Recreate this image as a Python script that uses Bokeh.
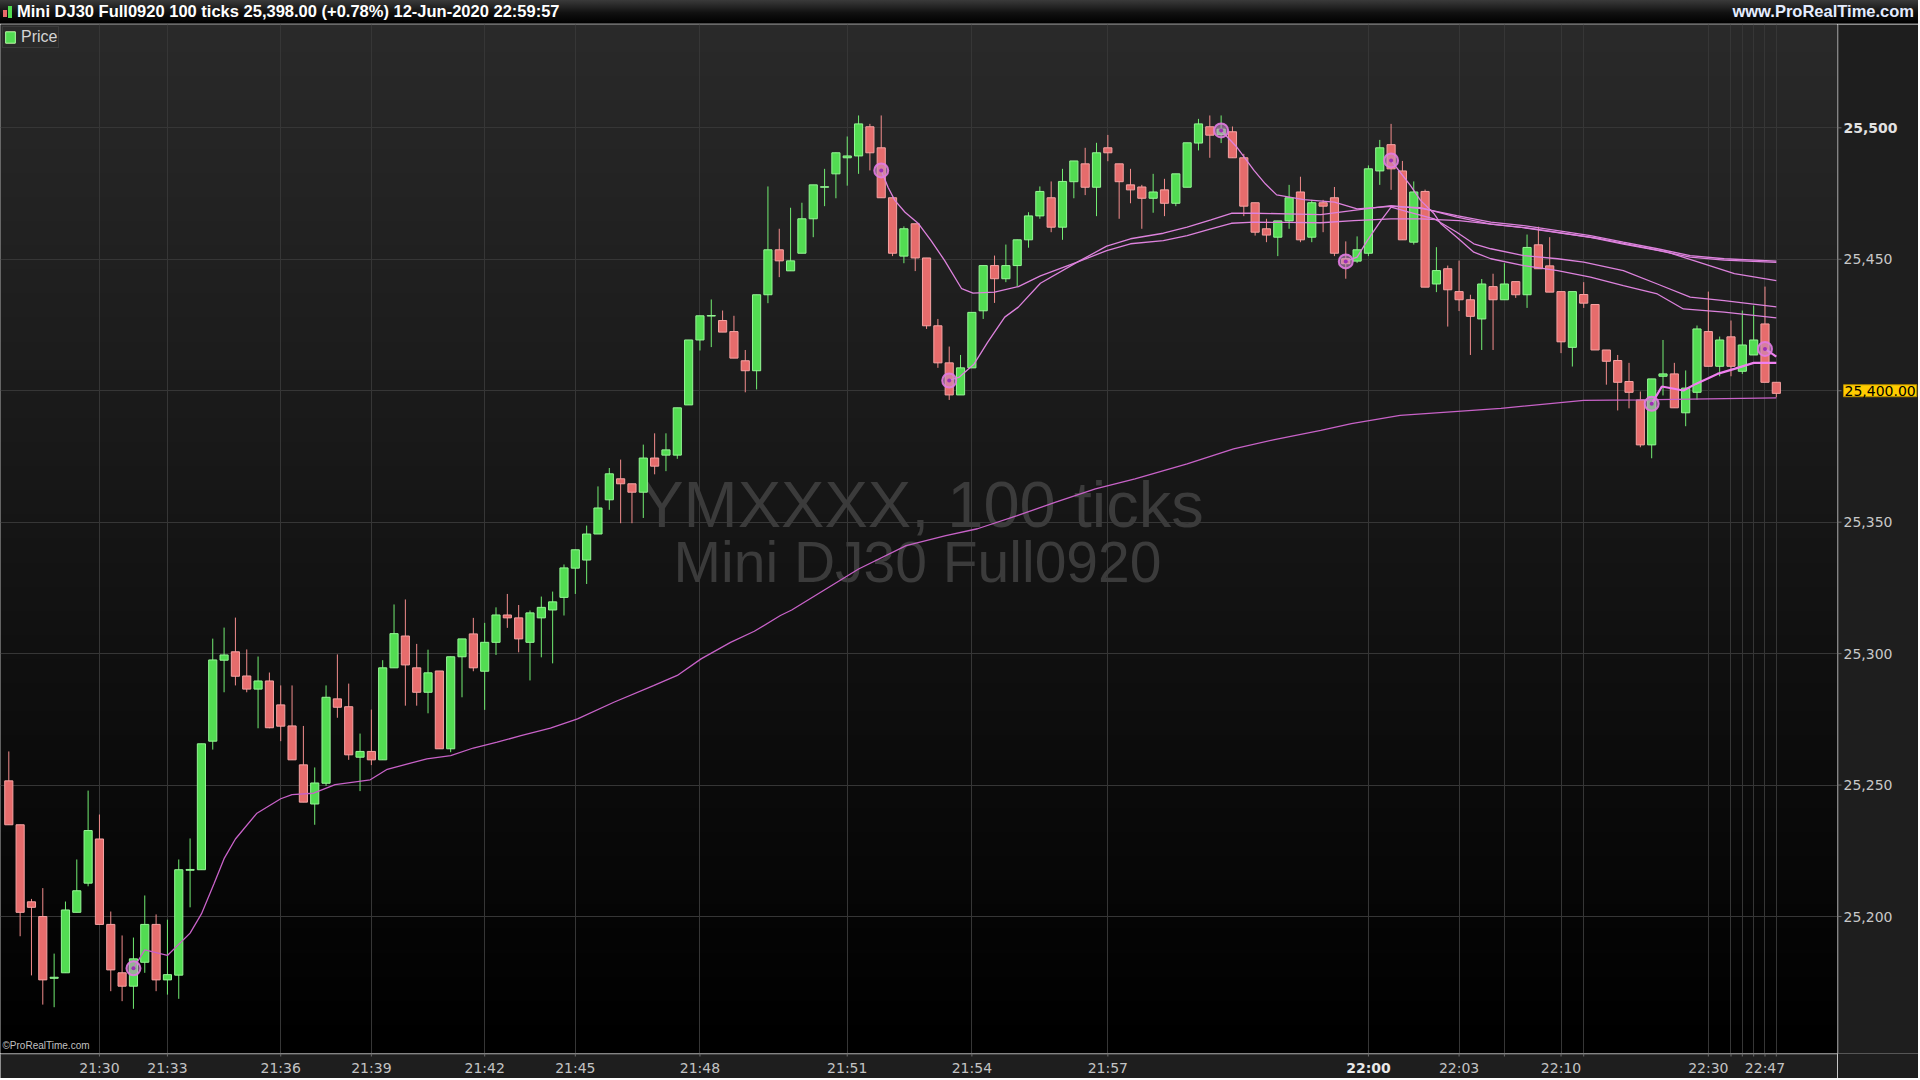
import numpy as np
from bokeh.plotting import figure
from bokeh.models import (ColumnDataSource, FixedTicker, Label, Range1d, Div, Span,
                          Legend, LegendItem)
from bokeh.layouts import column, row
from bokeh.embed import file_html
from bokeh.resources import INLINE
from bokeh.core.properties import value

# ---------------- data (100-tick bars, index = bar number) ----------------
open_ = [25251.6, 25234.9, 25205.6, 25200.0, 25176.5, 25178.6, 25201.6, 25212.7, 25229.5, 25197.0,
         25178.6, 25173.5, 25182.6, 25197.0, 25175.9, 25177.7, 25217.6, 25217.8, 25266.7, 25297.5,
         25300.7, 25291.5, 25286.5, 25289.6, 25280.5, 25272.5, 25257.7, 25242.8, 25250.7, 25282.8,
         25279.8, 25260.6, 25262.8, 25259.6, 25294.6, 25306.7, 25294.6, 25285.3, 25293.4, 25263.8,
         25298.8, 25307.5, 25293.3, 25304.3, 25314.7, 25313.6, 25304.3, 25313.6, 25316.6, 25321.4,
         25332.5, 25335.6, 25345.5, 25358.5, 25366.5, 25364.6, 25361.4, 25374.4, 25375.5, 25375.5,
         25394.6, 25419.3, 25428.4, 25426.7, 25422.5, 25411.4, 25407.6, 25436.5, 25453.6, 25445.6,
         25452.3, 25465.4, 25477.4, 25482.5, 25488.6, 25489.3, 25500.4, 25492.4, 25473.4, 25451.2,
         25463.5, 25450.5, 25424.7, 25410.6, 25398.4, 25408.7, 25430.4, 25447.6, 25442.6, 25447.6,
         25457.4, 25466.5, 25473.4, 25462.2, 25479.5, 25486.3, 25477.4, 25492.4, 25486.3, 25478.3,
         25477.5, 25473.2, 25476.4, 25471.3, 25477.4, 25494.2, 25500.4, 25497.5, 25498.5, 25488.6,
         25471.5, 25461.6, 25458.4, 25464.6, 25475.6, 25458.4, 25471.5, 25473.4, 25450.2, 25449.3,
         25452.3, 25483.6, 25493.6, 25483.6, 25456.5, 25475.8, 25440.6, 25446.4, 25437.7, 25434.6,
         25427.3, 25439.6, 25434.6, 25441.5, 25436.5, 25455.5, 25447.5, 25437.7, 25416.5, 25436.6,
         25432.8, 25415.5, 25411.5, 25403.5, 25396.5, 25379.4, 25405.5, 25406.4, 25391.6, 25399.4,
         25422.5, 25409.3, 25420.5, 25407.4, 25413.6, 25425.4, 25403.2]
high = [25262.8, 25234.9, 25206.7, 25210.8, 25185.9, 25205.7, 25221.7, 25247.9, 25238.8, 25201.9,
        25192.8, 25192.0, 25208.0, 25200.8, 25198.8, 25221.7, 25229.7, 25265.7, 25305.7, 25309.9,
        25313.7, 25301.6, 25298.9, 25292.8, 25287.9, 25287.9, 25272.5, 25256.7, 25287.9, 25299.7,
        25288.6, 25269.6, 25278.7, 25297.5, 25318.7, 25320.6, 25303.7, 25301.5, 25293.4, 25298.9,
        25305.6, 25313.6, 25311.7, 25317.6, 25322.7, 25318.5, 25316.4, 25321.7, 25323.6, 25333.9,
        25339.6, 25348.7, 25363.6, 25370.6, 25373.8, 25364.6, 25379.5, 25383.8, 25383.8, 25393.5,
        25419.3, 25428.5, 25434.7, 25430.5, 25428.5, 25415.5, 25436.5, 25477.7, 25461.6, 25469.6,
        25471.5, 25478.3, 25484.4, 25490.6, 25496.7, 25504.7, 25501.5, 25504.7, 25473.4, 25462.5,
        25463.5, 25450.5, 25427.3, 25416.8, 25413.6, 25429.8, 25447.6, 25451.4, 25455.6, 25457.5,
        25467.9, 25477.7, 25479.6, 25484.4, 25487.4, 25492.4, 25494.3, 25497.3, 25486.3, 25484.4,
        25478.3, 25482.5, 25480.6, 25482.5, 25494.3, 25503.4, 25504.7, 25504.7, 25500.5, 25490.1,
        25471.5, 25465.4, 25464.6, 25478.3, 25481.4, 25472.6, 25472.6, 25477.5, 25456.8, 25458.7,
        25485.7, 25495.4, 25501.5, 25487.4, 25479.6, 25476.5, 25454.6, 25447.6, 25449.5, 25436.5,
        25442.5, 25444.5, 25448.5, 25441.5, 25459.4, 25462.4, 25458.4, 25437.7, 25437.7, 25441.3,
        25432.8, 25415.5, 25413.6, 25410.6, 25399.7, 25404.5, 25419.3, 25410.6, 25407.7, 25424.8,
        25437.7, 25420.6, 25426.7, 25430.5, 25432.4, 25439.6, 25403.2]
low = [25234.9, 25192.5, 25177.6, 25166.5, 25165.5, 25178.6, 25201.6, 25211.5, 25197.0, 25171.6,
       25167.8, 25164.9, 25178.6, 25171.6, 25170.3, 25168.7, 25203.5, 25217.8, 25263.5, 25285.3,
       25287.9, 25285.3, 25271.6, 25271.6, 25266.7, 25259.6, 25243.5, 25234.9, 25249.7, 25275.6,
       25259.6, 25247.7, 25257.6, 25259.6, 25294.6, 25280.2, 25280.2, 25277.3, 25263.8, 25262.5,
       25283.4, 25293.3, 25278.6, 25299.5, 25309.8, 25300.5, 25289.8, 25298.6, 25296.3, 25314.5,
       25322.7, 25326.5, 25345.5, 25354.7, 25349.6, 25349.6, 25351.6, 25368.2, 25369.4, 25374.1,
       25394.6, 25415.3, 25416.6, 25422.3, 25412.4, 25399.4, 25400.5, 25433.3, 25443.2, 25445.6,
       25452.3, 25458.4, 25470.2, 25473.2, 25478.0, 25482.5, 25483.8, 25473.4, 25451.2, 25448.5,
       25445.5, 25423.5, 25408.7, 25396.5, 25398.4, 25408.7, 25427.3, 25433.4, 25441.3, 25439.6,
       25454.4, 25465.4, 25460.3, 25457.4, 25473.2, 25474.4, 25466.4, 25487.3, 25465.4, 25471.3,
       25461.6, 25467.7, 25466.4, 25470.2, 25477.4, 25491.4, 25488.6, 25494.2, 25488.6, 25466.4,
       25459.0, 25456.5, 25451.2, 25461.6, 25456.5, 25456.5, 25460.3, 25451.2, 25442.6, 25448.6,
       25451.2, 25478.3, 25476.4, 25457.4, 25455.6, 25439.4, 25437.5, 25424.4, 25430.3, 25413.6,
       25415.5, 25415.5, 25434.6, 25435.3, 25431.5, 25446.4, 25437.5, 25414.3, 25409.2, 25431.5,
       25415.5, 25402.3, 25392.5, 25393.3, 25378.5, 25374.3, 25398.2, 25393.5, 25386.5, 25396.6,
       25409.3, 25405.5, 25405.5, 25406.4, 25413.6, 25403.2, 25397.5]
close = [25234.9, 25201.6, 25203.5, 25175.9, 25176.9, 25202.5, 25209.8, 25232.7, 25197.0, 25179.7,
         25173.5, 25183.9, 25197.0, 25175.9, 25177.9, 25217.8, 25217.9, 25265.7, 25297.6, 25299.5,
         25291.4, 25286.5, 25289.6, 25271.8, 25272.4, 25259.6, 25243.5, 25250.8, 25283.4, 25279.6,
         25261.5, 25262.8, 25259.6, 25294.6, 25307.6, 25295.7, 25285.3, 25292.7, 25263.8, 25298.8,
         25305.6, 25294.6, 25304.3, 25314.7, 25313.6, 25305.6, 25315.5, 25317.6, 25319.7, 25332.6,
         25339.5, 25345.5, 25355.4, 25368.4, 25364.6, 25361.4, 25374.4, 25371.3, 25377.5, 25393.5,
         25419.3, 25428.5, 25428.6, 25422.3, 25412.4, 25407.6, 25436.5, 25453.6, 25449.4, 25449.4,
         25465.4, 25478.3, 25477.6, 25490.5, 25489.3, 25501.5, 25490.5, 25473.4, 25452.3, 25461.6,
         25450.5, 25424.7, 25410.6, 25398.4, 25408.7, 25429.8, 25447.6, 25442.6, 25447.6, 25457.4,
         25466.5, 25475.8, 25462.2, 25479.6, 25487.4, 25477.4, 25490.5, 25490.5, 25479.5, 25476.4,
         25473.2, 25475.6, 25471.3, 25482.5, 25494.3, 25501.5, 25497.2, 25499.5, 25488.6, 25470.2,
         25460.3, 25459.2, 25464.6, 25473.4, 25457.4, 25471.5, 25470.2, 25452.3, 25448.3, 25453.6,
         25484.4, 25492.4, 25484.4, 25457.4, 25475.6, 25439.4, 25445.7, 25438.4, 25434.6, 25428.3,
         25440.6, 25434.6, 25440.6, 25436.5, 25454.5, 25446.4, 25437.5, 25418.6, 25437.7, 25433.3,
         25415.5, 25411.2, 25403.2, 25399.4, 25379.4, 25404.5, 25406.4, 25393.5, 25401.0, 25423.5,
         25409.3, 25419.3, 25409.3, 25417.4, 25419.3, 25403.2, 25399.0]

# time axis (labels at bar indices)
time_tick_idx = [8, 14, 24, 32, 42, 50, 61, 74, 85, 97, 120, 128, 132, 137, 139, 150, 152, 153, 154, 155, 156]
time_tick_txt = ["21:30", "21:33", "21:36", "21:39", "21:42", "21:45", "21:48", "21:51", "21:54", "21:57",
                 "22:00", "22:03", "", "22:10", "", "22:30", "", "", "", "22:47", ""]
session_label = "22:00"
price_ticks = [25200, 25250, 25300, 25350, 25400, 25450, 25500]
bold_price = 25500

# anchored average lines: (bar index, price)
avg_0 = [(11, 25180.3), (12, 25187.3), (14, 25185.2), (16, 25193.7), (17, 25201.0), (18.1, 25212.4),
         (19, 25222.0), (20, 25229.5), (21.9, 25239.3), (24, 25244.8), (25, 25246.4), (26.9, 25246.9),
         (28.8, 25250.2), (31.9, 25252.0), (33.4, 25256.0), (36.9, 25260.0), (39.0, 25261.2),
         (41.0, 25264.1), (43.1, 25266.3), (45.2, 25268.8), (47.8, 25271.7), (50.2, 25275.2),
         (53.4, 25281.5), (56.9, 25287.8), (59.0, 25291.7), (61.1, 25298.0), (63.7, 25304.3),
         (65.8, 25308.5), (68.1, 25314.5), (69.1, 25316.6), (75.0, 25332.2), (79.2, 25341.1),
         (82.7, 25344.9), (85.5, 25347.5), (89.0, 25352.5), (92.4, 25357.6), (95.9, 25362.7),
         (99.4, 25366.5), (104.0, 25372.2), (108.1, 25377.9), (111.6, 25381.3), (115.8, 25384.9),
         (118.5, 25387.5), (122.8, 25390.6), (131.7, 25393.3), (139.0, 25396.3), (144.0, 25396.5),
         (156, 25397.3)]
avg_1 = [(77, 25483.8), (77.6, 25477.4), (78.2, 25472.4), (79.1, 25467.9), (80.3, 25463.5), (81.4, 25457.1),
         (82.6, 25449.5), (84.1, 25438.8), (85.1, 25437.1), (87.0, 25437.5), (89.1, 25439.6),
         (91.05, 25443.7), (94.3, 25448.9), (96.9, 25453.3), (99.0, 25455.9), (101.9, 25457.1),
         (104.0, 25459.0), (106.1, 25461.6), (107.9, 25463.7), (109.9, 25464.1), (112.8, 25464.0),
         (115.8, 25463.9), (118.7, 25464.7), (122.0, 25465.4), (124.6, 25465.4), (128.0, 25464.7),
         (134.6, 25461.6), (140.5, 25457.8), (146.4, 25452.7), (152.3, 25444.5), (156, 25441.9)]
avg_2 = [(83, 25403.9), (83.9, 25405.2), (85.2, 25410.2), (86.4, 25418.5), (87.9, 25428.0), (89.1, 25431.8),
         (91.05, 25440.9), (94.3, 25448.9), (96.9, 25455.0), (99.0, 25457.8), (101.9, 25459.9),
         (104.0, 25462.2), (106.1, 25465.0), (107.9, 25467.5), (109.9, 25467.5), (112.8, 25467.3),
         (115.8, 25467.0), (118.7, 25468.6), (122.0, 25470.4), (124.9, 25469.2), (127.8, 25466.6),
         (130.8, 25464.1), (133.7, 25462.8), (136.7, 25460.9), (139.6, 25459.0), (142.5, 25456.5),
         (145.5, 25454.0), (148.4, 25451.4), (151.4, 25450.2), (156, 25449.3)]
avg_3 = [(107, 25499.0), (108.4, 25492.6), (109.9, 25483.8), (110.9, 25478.7), (111.9, 25474.5),
         (114.3, 25472.7), (117.0, 25471.7), (119.0, 25469.2), (122.0, 25470.1), (124.6, 25469.6),
         (127.8, 25466.0), (130.8, 25463.4), (133.7, 25462.0), (136.7, 25460.1), (139.6, 25458.3),
         (142.5, 25455.8), (145.5, 25453.4), (148.4, 25450.8), (151.4, 25449.7), (156, 25448.8)]
avg_4 = [(118, 25449.2), (119.0, 25450.8), (119.9, 25457.1), (121.1, 25464.7), (122.0, 25469.8),
         (123.5, 25468.0), (125.8, 25465.4), (127.8, 25460.3), (129.3, 25455.9), (130.8, 25454.0),
         (133.7, 25451.4), (136.7, 25450.2), (139.0, 25448.9), (142.5, 25445.7), (145.5, 25440.6),
         (148.4, 25435.6), (151.4, 25434.3), (156, 25431.9)]
avg_5 = [(122, 25487.6), (122.8, 25483.1), (123.7, 25478.1), (124.6, 25472.4), (125.8, 25467.3),
         (126.4, 25463.5), (127.8, 25458.4), (129.3, 25452.7), (130.8, 25450.2), (133.7, 25447.6),
         (136.7, 25445.7), (139.6, 25443.2), (142.5, 25440.0), (145.5, 25436.8), (147.8, 25431.1),
         (151.4, 25429.9), (156, 25427.7)]
avg_6 = [(145, 25395.0), (145.9, 25401.6), (147.8, 25400.1), (148.9, 25402.6), (150.8, 25406.4),
         (152.3, 25408.3), (154.0, 25410.6), (156, 25410.6)]
avg_7 = [(155, 25415.9), (156, 25413.0)]

anchor_idx = [11, 77, 83, 107, 118, 122, 145, 155]
anchor_val = [25180.3, 25483.8, 25403.9, 25499.0, 25449.2, 25487.6, 25395.0, 25415.9]

last_price_label = "25,400.00"
last_price_level = 25400

# ---------------- geometry ----------------
FRAME_W, FRAME_H = 1837, 1029
RIGHT_W, BOTTOM_H, TITLE_H = 81, 25, 24
X0, X1 = -0.733, 161.40
Y0, Y1 = 25147.9, 25539.3
PANEL = "#1e1e1e"
AXIS = "#6a6a6a"

# ---------------- main chart ----------------
p = figure(width=FRAME_W, height=FRAME_H, output_backend="svg", toolbar_location=None,
           x_range=Range1d(X0, X1), y_range=Range1d(Y0, Y1),
           x_axis_location=None, y_axis_location=None,
           min_border_left=0, min_border_top=0, min_border_right=0, min_border_bottom=0,
           background_fill_color="#000000", border_fill_color=PANEL, outline_line_color=None)

# vertical gradient background of the chart area
N = 256
shade = np.linspace(0, 42, N).astype(np.uint8)
img = np.empty((N, 1), dtype=np.uint32)
view = img.view(dtype=np.uint8).reshape((N, 1, 4))
view[:, 0, 0] = shade
view[:, 0, 1] = shade
view[:, 0, 2] = shade
view[:, 0, 3] = 255
p.image_rgba(image=[img], x=X0, y=Y0, dw=X1 - X0, dh=Y1 - Y0, level="image")

p.xgrid.ticker = FixedTicker(ticks=time_tick_idx)
p.ygrid.ticker = FixedTicker(ticks=price_ticks)
for g in (p.xgrid, p.ygrid):
    g.grid_line_color = "#363636"
    g.grid_line_width = 1

# watermark
p.add_layout(Label(x=80.6, y=25356.8, text="YMXXXX, 100 ticks", text_align="center",
                   text_baseline="alphabetic", text_font="Liberation Sans", text_font_size="65px",
                   text_color="#3b3b3b", level="underlay"))
p.add_layout(Label(x=80.2, y=25334.8, text="Mini DJ30 Full0920", text_align="center",
                   text_baseline="alphabetic", text_font="Liberation Sans", text_font_size="57px",
                   text_color="#3b3b3b", level="underlay"))

# candles
idx = list(range(len(open_)))
up = [i for i in idx if close[i] >= open_[i]]
dn = [i for i in idx if close[i] < open_[i]]


def make_src(ids):
    return ColumnDataSource(dict(
        x=ids,
        high=[high[i] for i in ids], low=[low[i] for i in ids],
        top=[max(open_[i], close[i]) for i in ids],
        bottom=[min(open_[i], close[i]) for i in ids]))


src_up, src_dn = make_src(up), make_src(dn)
p.segment(x0="x", y0="low", x1="x", y1="high", source=src_up, line_color="#72ec72", line_width=1)
p.segment(x0="x", y0="low", x1="x", y1="high", source=src_dn, line_color="#f28c8c", line_width=1)
r_up = p.vbar(x="x", width=0.72, top="top", bottom="bottom", source=src_up,
              fill_color="#52dc52", line_color="#95f795", line_width=1)
r_dn = p.vbar(x="x", width=0.72, top="top", bottom="bottom", source=src_dn,
              fill_color="#e66c6c", line_color="#f7a3a3", line_width=1)

# anchored average lines
line_specs = [(avg_0, "#c862c8", 1.3), (avg_1, "#dd82dd", 1.3), (avg_2, "#dd82dd", 1.3),
              (avg_3, "#dd82dd", 1.3), (avg_4, "#dd82dd", 1.3), (avg_5, "#dd82dd", 1.3),
              (avg_6, "#f080f0", 2.2), (avg_7, "#f080f0", 2.2)]
for pts, col, w in line_specs:
    p.line(x=[a for a, b in pts], y=[b for a, b in pts], line_color=col, line_width=w)

# anchor markers
p.scatter(x=anchor_idx, y=anchor_val, size=14, marker="circle", fill_color="#c890c8", fill_alpha=0.55,
          line_color="#e27ae2", line_width=2, line_alpha=0.9)
p.scatter(x=anchor_idx, y=anchor_val, size=4, marker="circle", fill_color="#9b2fb5", line_color=None)

# legend box "Price"
legend = Legend(items=[LegendItem(label="Price", renderers=[r_dn, r_up])], location="top_left",
                background_fill_color="#2a2a2a", background_fill_alpha=1.0, border_line_color="#4a4a4a",
                label_text_color="#d4d4d4", label_text_font="Liberation Sans", label_text_font_size="16px",
                glyph_width=12, glyph_height=14, label_height=16, padding=1, margin=2, spacing=0,
                label_standoff=5)
p.add_layout(legend)

# copyright
p.add_layout(Label(x=X0, x_offset=2, y=Y0 + 0.8, text="\u00a9ProRealTime.com", text_baseline="bottom",
                   text_font="Liberation Sans", text_font_size="10px", text_color="#c0c0c0"))

# ---------------- bottom time axis strip ----------------
pb = figure(width=FRAME_W, height=BOTTOM_H, output_backend="svg", toolbar_location=None,
            x_range=p.x_range, y_range=Range1d(-BOTTOM_H, 0),
            x_axis_location=None, y_axis_location=None,
            min_border_left=0, min_border_top=0, min_border_right=0, min_border_bottom=0,
            background_fill_color=PANEL, border_fill_color=PANEL, outline_line_color=None)
pb.grid.visible = False
pb.add_layout(Span(location=-0.5, dimension="width", line_color=AXIS, line_width=1))
pb.segment(x0=time_tick_idx, y0=[0] * len(time_tick_idx), x1=time_tick_idx, y1=[-3] * len(time_tick_idx),
           line_color=AXIS, line_width=1)
pb.text(x=time_tick_idx, y=[-14] * len(time_tick_idx), text=time_tick_txt,
        text_font_style=["bold" if t == session_label else "normal" for t in time_tick_txt],
        text_color=["#e8e8e8" if t == session_label else "#c4c4c4" for t in time_tick_txt],
        text_align="center", text_baseline="middle", text_font=value("DejaVu Sans"),
        text_font_size="14px")

# ---------------- right price axis strip ----------------
pa = figure(width=RIGHT_W, height=FRAME_H + BOTTOM_H, output_backend="svg", toolbar_location=None,
            x_range=Range1d(0, RIGHT_W), y_range=p.y_range,
            x_axis_location=None, y_axis_location=None,
            min_border_left=0, min_border_top=0, min_border_right=0, min_border_bottom=BOTTOM_H,
            background_fill_color=PANEL, border_fill_color=PANEL, outline_line_color=None)
pa.grid.visible = False
pa.add_layout(Span(location=0.5, dimension="height", line_color=AXIS, line_width=1))
pa.segment(x0=[0] * len(price_ticks), y0=price_ticks, x1=[4] * len(price_ticks), y1=price_ticks,
           line_color=AXIS, line_width=1)
price_txt = [f"{v:,}" if v != last_price_level else "" for v in price_ticks]
pa.text(x=[6] * len(price_ticks), y=price_ticks, text=price_txt,
        text_font_style=["bold" if v == bold_price else "normal" for v in price_ticks],
        text_color=["#e2e2e2" if v == bold_price else "#c8c8c8" for v in price_ticks],
        text_align="left", text_baseline="middle", text_font=value("DejaVu Sans"), text_font_size="14px")
pa.add_layout(Label(x=6, y=last_price_level, text=last_price_label, text_baseline="middle",
                    text_align="left", text_font="DejaVu Sans", text_font_size="14px", text_color="#000000",
                    background_fill_color="#ffcc00", border_line_color="#b08a00", padding=1))

# ---------------- title bar ----------------
title_html = (
    f'<div style="width:{FRAME_W + RIGHT_W}px;height:{TITLE_H}px;box-sizing:border-box;display:flex;'
    'align-items:center;justify-content:space-between;'
    'background:linear-gradient(to bottom,#3a3a3a 0%,#111111 55%,#000000 100%);'
    'border-bottom:1px solid #4a4a4a;font-family:\'Liberation Sans\',Arial,sans-serif;font-weight:bold;'
    'font-size:16.5px;color:#ffffff;padding:0 4px 0 3px;">'
    '<span style="display:flex;align-items:center;">'
    '<span style="display:inline-block;width:4px;height:7px;background:#e86a6a;margin-right:1px;margin-top:3px"></span>'
    '<span style="display:inline-block;width:4px;height:12px;background:#4fdc4f;margin-right:5px"></span>'
    'Mini DJ30 Full0920 100 ticks 25,398.00 (+0.78%) 12-Jun-2020 22:59:57</span>'
    '<span style="color:#e4ecff">www.ProRealTime.com</span></div>')
title = Div(text=title_html, width=FRAME_W + RIGHT_W, height=TITLE_H, margin=(0, 0, 0, 0))

layout = column(title, row(column(p, pb, spacing=0), pa, spacing=0), spacing=0)
open("out.html", "w").write(file_html(layout, INLINE))
